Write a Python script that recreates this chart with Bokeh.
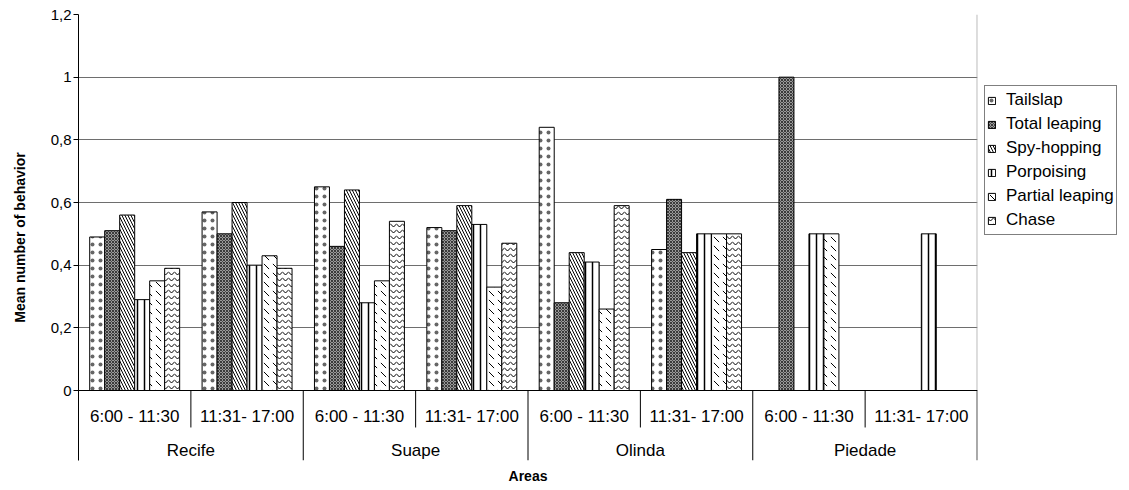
from bokeh.plotting import figure
from bokeh.layouts import row
from bokeh.models import (ColumnDataSource, FactorRange, Range1d, FixedTicker,
                          CustomJSTickFormatter, Legend, LegendItem, Span, Title)
from bokeh.transform import dodge
from bokeh.core.properties import value
from bokeh.embed import file_html
from bokeh.resources import INLINE

# ---------------- data ----------------
areas = ["Recife", "Suape", "Olinda", "Piedade"]
periods = ["6:00 - 11:30", "11:31- 17:00"]
behaviors = ["Tailslap", "Total leaping", "Spy-hopping", "Porpoising",
             "Partial leaping", "Chase"]

# one value per (area, period): Recife AM, Recife PM, Suape AM, ... Piedade PM
tailslap        = [0.49, 0.57, 0.65, 0.52, 0.84, 0.45, 0.00, 0.00]
total_leaping   = [0.51, 0.50, 0.46, 0.51, 0.28, 0.61, 1.00, 0.00]
spy_hopping     = [0.56, 0.60, 0.64, 0.59, 0.44, 0.44, 0.00, 0.00]
porpoising      = [0.29, 0.40, 0.28, 0.53, 0.41, 0.50, 0.50, 0.50]
partial_leaping = [0.35, 0.43, 0.35, 0.33, 0.26, 0.50, 0.50, 0.00]
chase           = [0.39, 0.39, 0.54, 0.47, 0.59, 0.50, 0.00, 0.00]

y_ticks = [0, 0.2, 0.4, 0.6, 0.8, 1.0, 1.2]

series = [tailslap, total_leaping, spy_hopping, porpoising, partial_leaping, chase]

FONT = "Liberation Sans"
Y_MIN = -0.2234         # room below zero for the two-level category labels
Y_LEVEL1 = -0.0814
Y_LEVEL2 = -0.1899
Y_INNER = -0.118

factors = [(a, t) for a in areas for t in periods]

data = {"x": factors}
for name, vals in zip(behaviors, series):
    data[name] = vals
src = ColumnDataSource(data)

p = figure(x_range=FactorRange(*factors, factor_padding=0, group_padding=0,
                               subgroup_padding=0, range_padding=0),
           y_range=Range1d(Y_MIN, 1.2),
           width=978, height=490, output_backend="svg", toolbar_location=None,
           min_border_left=78, min_border_right=1, min_border_top=14,
           min_border_bottom=30)
p.outline_line_color = None
p.background_fill_color = "white"
p.border_fill_color = "white"

styles = [
    dict(fill_color="white", hatch_pattern=".", hatch_scale=8, hatch_color="#666666"),
    dict(fill_color="#9a9a9a", hatch_pattern="x", hatch_scale=3, hatch_color="#3a3a3a"),
    dict(fill_color="white", hatch_pattern="\\", hatch_scale=6, hatch_color="black"),
    dict(fill_color="white", hatch_pattern="|", hatch_scale=7, hatch_color="black",
         hatch_weight=1.5),
    dict(fill_color="white", hatch_pattern="`", hatch_scale=9, hatch_color="black"),
    dict(fill_color="white", hatch_pattern="v", hatch_scale=6, hatch_color="black"),
]

bw = 0.1334
for i, name in enumerate(behaviors):
    off = (i - 2.5) * bw
    p.vbar(x=dodge("x", off, range=p.x_range), top=name, bottom=0, width=bw,
           source=src, line_color="black", line_width=1, **styles[i])

# y axis
tick = FixedTicker(ticks=y_ticks)
p.yaxis.ticker = tick
p.yaxis.bounds = (Y_MIN, 1.2)
p.yaxis.formatter = CustomJSTickFormatter(
    code="return (Math.round(tick*10)/10).toString().replace('.', ',');")
p.yaxis.major_tick_out = 5
p.yaxis.major_tick_in = 0
p.yaxis.minor_tick_line_color = None
p.yaxis.major_label_standoff = 2
p.yaxis.major_label_text_font = FONT
p.yaxis.major_label_text_font_size = "15px"
p.yaxis.major_label_text_color = "black"
p.yaxis.axis_line_color = "black"
p.yaxis.major_tick_line_color = "black"
p.yaxis.axis_label = "Mean number of behavior"
p.yaxis.axis_label_text_font = FONT
p.yaxis.axis_label_text_font_size = "14px"
p.yaxis.axis_label_text_font_style = "bold"
p.yaxis.axis_label_text_color = "black"
p.yaxis.axis_label_standoff = 20

p.ygrid.ticker = tick
p.ygrid.grid_line_color = "#6e6e6e"
p.xgrid.visible = False
p.xaxis.visible = False

p.add_layout(Span(location=0, dimension="width", line_color="black", line_width=1))

# two-level category labels and separators
lab1 = ColumnDataSource(dict(x=factors, t=[f[1] for f in factors]))
p.text(x="x", y=Y_LEVEL1, text="t", source=lab1, text_align="center",
       text_baseline="middle", text_font=value(FONT), text_font_size="17px",
       text_color="black")

area_first = [(a, periods[0]) for a in areas]
area_last = [(a, periods[1]) for a in areas]
lab2 = ColumnDataSource(dict(x=area_first, t=areas))
p.text(x=dodge("x", 0.5, range=p.x_range), y=Y_LEVEL2, text="t", source=lab2,
       text_align="center", text_baseline="middle", text_font=value(FONT),
       text_font_size="17px", text_color="black")

inner = ColumnDataSource(dict(x=area_first))
p.segment(x0=dodge("x", 0.5, range=p.x_range), y0=0,
          x1=dodge("x", 0.5, range=p.x_range), y1=Y_INNER,
          source=inner, line_color="black", line_width=1)
outer = ColumnDataSource(dict(x=area_last[:-1]))
p.segment(x0=dodge("x", 0.5, range=p.x_range), y0=0,
          x1=dodge("x", 0.5, range=p.x_range), y1=Y_MIN,
          source=outer, line_color="black", line_width=1)
edge = ColumnDataSource(dict(x=area_last[-1:]))
p.segment(x0=dodge("x", 0.497, range=p.x_range), y0=0,
          x1=dodge("x", 0.497, range=p.x_range), y1=Y_MIN,
          source=edge, line_color="black", line_width=1)
p.segment(x0=dodge("x", 0.497, range=p.x_range), y0=0,
          x1=dodge("x", 0.497, range=p.x_range), y1=1.2,
          source=edge, line_color="#9a9a9a", line_width=1)

p.add_layout(Title(text="Areas", align="center", text_font=FONT,
                   text_font_size="14px", text_font_style="bold",
                   text_color="black", standoff=10), "below")

# ---------------- legend panel ----------------
lg = figure(width=151, height=490, output_backend="svg", toolbar_location=None,
            x_range=Range1d(0, 1), y_range=Range1d(0, 1),
            min_border_left=0, min_border_right=0, min_border_top=0,
            min_border_bottom=0)
lg.axis.visible = False
lg.grid.visible = False
lg.outline_line_color = None
lg.border_fill_color = "white"
lg.background_fill_color = "white"

# key swatches only (placed outside the visible range of this panel)
dummy = []
for i, name in enumerate(behaviors):
    dummy.append(lg.vbar(x=[5], top=[1], bottom=[0], width=0.1,
                         line_color="black", **styles[i]))

legend = Legend(items=[LegendItem(label=b, renderers=[r])
                       for b, r in zip(behaviors, dummy)],
                location=(6, 225), margin=0, padding=2, spacing=0,
                label_height=24, glyph_height=9, glyph_width=9, label_standoff=10,
                label_text_font=FONT, label_text_font_size="17px",
                label_text_color="black",
                border_line_color="black", border_line_width=1,
                background_fill_color="white", background_fill_alpha=1)
lg.add_layout(legend)

layout = row(p, lg, spacing=0)
open("out.html", "w").write(file_html(layout, INLINE))
